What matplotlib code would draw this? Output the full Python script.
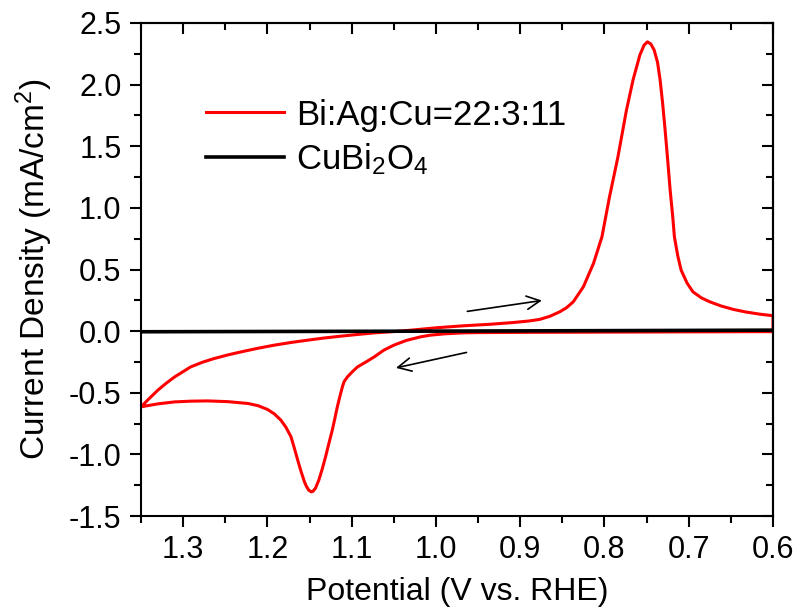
import numpy as np
import matplotlib
matplotlib.use("Agg")
import matplotlib.pyplot as plt

plt.rcParams['font.family'] = ['Liberation Sans', 'DejaVu Sans']
plt.rcParams['mathtext.fontset'] = 'custom'
plt.rcParams['mathtext.rm'] = 'Liberation Sans'
plt.rcParams['mathtext.it'] = 'Liberation Sans:italic'

# Bi:Ag:Cu=22:3:11, sweep 1.35 -> 0.6 V (upper branch)
fwd_v = [1.35, 1.34, 1.33, 1.32, 1.31, 1.291, 1.277, 1.263, 1.247, 1.231, 1.212, 1.192,
         1.172, 1.152, 1.133, 1.113, 1.093, 1.073, 1.042, 1.00, 0.968, 0.935, 0.908,
         0.89, 0.877, 0.865, 0.853, 0.845, 0.837, 0.825, 0.813, 0.803, 0.794, 0.784,
         0.774, 0.766, 0.758, 0.753, 0.749, 0.745, 0.741, 0.737, 0.734, 0.731, 0.728,
         0.725, 0.722, 0.719, 0.717, 0.713, 0.709, 0.702, 0.695, 0.685, 0.675, 0.662,
         0.647, 0.632, 0.616, 0.60]
fwd_j = [-0.614, -0.545, -0.479, -0.422, -0.371, -0.29, -0.252, -0.222, -0.193, -0.168,
         -0.140, -0.114, -0.092, -0.073, -0.056, -0.041, -0.027, -0.014, 0.0, 0.027, 0.043,
         0.056, 0.07, 0.082, 0.095, 0.12, 0.157, 0.19, 0.238, 0.36, 0.55, 0.765, 1.09,
         1.414, 1.79, 2.04, 2.24, 2.32, 2.347, 2.33, 2.28, 2.18, 2.04, 1.85, 1.63, 1.39,
         1.14, 0.93, 0.765, 0.61, 0.495, 0.39, 0.319, 0.27, 0.238, 0.205, 0.176, 0.155,
         0.138, 0.125]

# return sweep 0.6 -> 1.35 V (lower branch)
rev_v = [0.60, 0.70, 0.80, 0.90, 0.95, 0.968, 0.99, 1.007, 1.018, 1.035, 1.05, 1.062,
         1.073, 1.083, 1.093, 1.099, 1.105, 1.109, 1.111, 1.114, 1.117, 1.120, 1.123,
         1.127, 1.131, 1.135, 1.139, 1.143, 1.146, 1.148, 1.151, 1.154, 1.156, 1.160,
         1.164, 1.168, 1.172, 1.178, 1.184, 1.192, 1.200, 1.211, 1.223, 1.247, 1.271,
         1.29, 1.31, 1.33, 1.35]
rev_j = [-0.004, -0.006, -0.008, -0.010, -0.012, -0.014, -0.022, -0.033, -0.046, -0.075,
         -0.114, -0.155, -0.208, -0.25, -0.29, -0.328, -0.371, -0.41, -0.452, -0.53, -0.614,
         -0.71, -0.803, -0.91, -1.02, -1.12, -1.209, -1.275, -1.30, -1.304, -1.29, -1.255,
         -1.223, -1.14, -1.047, -0.95, -0.857, -0.78, -0.722, -0.67, -0.635, -0.605,
         -0.587, -0.572, -0.566, -0.568, -0.574, -0.59, -0.614]

# CuBi2O4
cbo_v = [1.35, 1.0, 0.6]
cbo_j = [-0.005, 0.0, 0.008]

fig = plt.figure(figsize=(8, 6.13), dpi=100)
ax = fig.add_axes([0.17625, 0.1582, 0.79, 0.8043])

ax.plot(fwd_v + rev_v, fwd_j + rev_j, color='red', lw=2.2, label='Bi:Ag:Cu=22:3:11')
ax.plot(cbo_v, cbo_j, color='black', lw=2.6, label='CuBi$_2$O$_4$')

# sweep direction arrows
ax.annotate('', xy=(0.871, 0.252), xytext=(0.966, 0.157),
            arrowprops=dict(arrowstyle='->', color='black', lw=1.2, mutation_scale=24))
ax.annotate('', xy=(1.0507, -0.303), xytext=(0.9605, -0.168),
            arrowprops=dict(arrowstyle='->', color='black', lw=1.2, mutation_scale=24))

ax.set_xlim(1.35, 0.6)
ax.set_ylim(-1.5, 2.5)
ax.set_xticks(np.arange(0.6, 1.31, 0.1))
ax.set_xticks(np.arange(0.65, 1.36, 0.1), minor=True)
ax.set_yticks(np.arange(-1.5, 2.51, 0.5))
ax.set_yticks(np.arange(-1.25, 2.5, 0.5), minor=True)
ax.xaxis.set_major_formatter(matplotlib.ticker.FormatStrFormatter('%.1f'))
ax.yaxis.set_major_formatter(matplotlib.ticker.FormatStrFormatter('%.1f'))

for s in ax.spines.values():
    s.set_linewidth(1.5)
ax.tick_params(which='major', direction='out', length=8, width=1.5, labelsize=22, pad=6)
ax.tick_params(which='minor', direction='out', length=5, width=1.5)

# mirrored ticks on top/right pointing inward
secx = ax.secondary_xaxis('top')
secx.set_xticks(np.arange(0.6, 1.31, 0.1))
secx.set_xticks(np.arange(0.65, 1.36, 0.1), minor=True)
secx.tick_params(which='major', direction='in', length=8, width=1.5, labeltop=False)
secx.tick_params(which='minor', direction='in', length=5, width=1.5)
secx.spines['top'].set_linewidth(1.5)
secy = ax.secondary_yaxis('right')
secy.set_yticks(np.arange(-1.5, 2.51, 0.5))
secy.set_yticks(np.arange(-1.25, 2.5, 0.5), minor=True)
secy.tick_params(which='major', direction='in', length=8, width=1.5, labelright=False)
secy.tick_params(which='minor', direction='in', length=5, width=1.5)
secy.spines['right'].set_linewidth(1.5)

ax.set_xlabel('Potential (V vs. RHE)', fontsize=23, labelpad=8)
ax.set_ylabel('Current Density (mA/cm$^2$)', fontsize=24, labelpad=10)

ax.legend(loc='upper left', bbox_to_anchor=(0.053, 0.91), frameon=False,
          prop={'family': 'Liberation Sans', 'size': 25},
          handlelength=2.25, handletextpad=0.35, labelspacing=0.27)

plt.savefig('out.png', dpi=100)
